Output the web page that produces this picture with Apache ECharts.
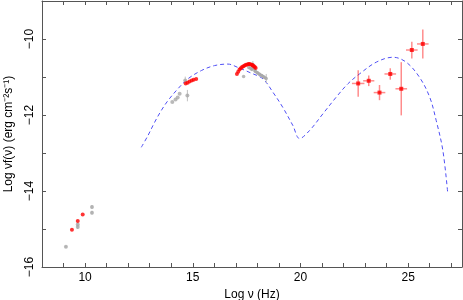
<!DOCTYPE html>
<html><head><meta charset="utf-8">
<script src="https://cdn.jsdelivr.net/npm/echarts@6/dist/echarts.min.js"></script>
<style>html,body{margin:0;padding:0;background:#fff}#c{width:463px;height:300px}</style>
</head><body><div id="c"></div>
<script>
// ---- data ----
const xTicks = [10, 15, 20, 25];
const yTicks = [-16, -14, -12, -10];

const radioGrayX = [9.11, 9.66, 9.66, 10.32, 10.32];
const radioGrayY = [-15.47, -14.88, -14.95, -14.42, -14.57];
const radioGrayErr = [0.02, 0.05, 0.05, 0.05, 0.05];
const radioRedX = [9.39, 9.66, 9.89];
const radioRedY = [-15.02, -14.79, -14.62];

const optGrayX = [14.05, 14.2, 14.3, 14.39, 14.65, 14.75];
const optGrayY = [-11.66, -11.59, -11.54, -11.44, -11.09, -11.49];
const optGrayErr = [0, 0, 0, 0, 0.1, 0.15];
const optRedX = [14.67, 14.76, 14.85, 14.95, 15.04, 15.16];
const optRedY = [-11.17, -11.15, -11.12, -11.09, -11.07, -11.05];

const xrayGrayX = [17.36, 17.6, 17.75, 17.79, 17.9, 18.0, 18.1, 18.2, 18.3, 18.41];
const xrayGrayY = [-10.99, -10.75, -10.80, -10.67, -10.85, -10.89, -10.93, -10.96, -11.0, -11.04];
const xrayGrayErr = [0, 0, 0, 0.09, 0, 0, 0, 0, 0, 0.12];
const xrayRedX = [17.05, 17.11, 17.17, 17.23, 17.29, 17.35, 17.41, 17.47, 17.53, 17.59, 17.64, 17.7, 17.75, 17.79, 17.84, 17.88, 17.92];
const xrayRedY = [-10.92, -10.86, -10.80, -10.77, -10.74, -10.72, -10.70, -10.68, -10.67, -10.66, -10.66, -10.67, -10.68, -10.70, -10.72, -10.74, -10.76];

const gammaX = [22.68, 23.17, 23.67, 24.17, 24.68, 25.17, 25.68];
const gammaY = [-11.17, -11.10, -11.41, -10.92, -11.31, -10.29, -10.13];
const gammaXErr = [0.29, 0.26, 0.27, 0.27, 0.27, 0.27, 0.27];
const gammaYErr = [0.35, 0.14, 0.2, 0.15, 0.7, 0.22, 0.38];

const modelX = [12.61, 12.92, 13.23, 13.54, 13.85, 14.31, 14.77, 15.40, 16.01, 16.63, 17.10, 17.68, 18.26, 18.72, 19.18, 19.65, 19.96, 20.42, 21.04, 21.66, 22.20, 22.74, 23.52, 24.29, 24.91, 25.53, 26.0, 26.30, 26.61, 26.84];
const modelY = [-12.85, -12.54, -12.19, -11.88, -11.62, -11.31, -11.05, -10.83, -10.70, -10.66, -10.75, -10.89, -11.05, -11.40, -11.80, -12.28, -12.62, -12.41, -11.97, -11.53, -11.18, -10.92, -10.61, -10.48, -10.61, -11.01, -11.53, -12.14, -12.93, -14.07];

// ---- chart ----
const zip = (xs, ys) => xs.map((x, i) => [x, ys[i]]);
const errData = (xs, ys, xe, ye) => xs.map((x, i) => [x, ys[i], xe ? xe[i] : 0, ye ? ye[i] : 0]);

function errRender(color, width) {
  return function (params, api) {
    const x = api.value(0), y = api.value(1), xe = api.value(2), ye = api.value(3);
    const children = [];
    if (ye > 0) {
      const a = api.coord([x, y - ye]), b = api.coord([x, y + ye]);
      children.push({type: 'line', shape: {x1: a[0], y1: a[1], x2: b[0], y2: b[1]}, style: {stroke: color, lineWidth: width}});
    }
    if (xe > 0) {
      const a = api.coord([x - xe, y]), b = api.coord([x + xe, y]);
      children.push({type: 'line', shape: {x1: a[0], y1: a[1], x2: b[0], y2: b[1]}, style: {stroke: color, lineWidth: width}});
    }
    return {type: 'group', children: children};
  };
}

const FONT = 'Liberation Sans';
const axisCol = '#555';
const chart = echarts.init(document.getElementById('c'), null, {renderer: 'canvas'});
const baseX = {
  type: 'value', min: 8, max: 27.5, interval: 1,
  axisLine: {show: true, onZero: false, lineStyle: {color: axisCol, width: 1}},
  axisTick: {show: true, inside: true, length: 4, lineStyle: {color: axisCol}},
  splitLine: {show: false}
};
const baseY = {
  type: 'value', min: -16, max: -9, interval: 1,
  axisLine: {show: true, onZero: false, lineStyle: {color: axisCol, width: 1}},
  axisTick: {show: true, inside: true, length: 4, lineStyle: {color: axisCol}},
  splitLine: {show: false}
};
chart.setOption({
  animation: false,
  grid: {left: 42, right: 1, top: 1, bottom: 33, containLabel: false, outerBoundsMode: 'none'},
  xAxis: [
    Object.assign({}, baseX, {
      position: 'bottom',
      name: 'Log ν (Hz)', nameLocation: 'middle', nameGap: 22,
      nameTextStyle: {fontFamily: FONT, fontSize: 12, color: '#000'},
      axisLabel: {fontFamily: FONT, fontSize: 12, color: '#000', margin: 5,
        formatter: v => xTicks.includes(v) ? String(v) : ''}
    }),
    Object.assign({}, baseX, {position: 'top', axisLabel: {show: false}})
  ],
  yAxis: [
    Object.assign({}, baseY, {
      position: 'left',
      name: 'Log νf(ν) (erg cm⁻²s⁻¹)', nameLocation: 'middle', nameGap: 27, nameRotate: 90,
      nameTextStyle: {fontFamily: FONT, fontSize: 12, color: '#000'},
      axisLabel: {fontFamily: FONT, fontSize: 12, color: '#000', rotate: 90, margin: 6,
        formatter: v => yTicks.includes(v) ? String(v).replace('-', '−') : ''}
    }),
    Object.assign({}, baseY, {position: 'right', axisLabel: {show: false}})
  ],
  series: [
    {type: 'line', data: zip(modelX, modelY), smooth: 0.35, showSymbol: false, symbol: 'none',
      lineStyle: {color: '#4f4ff5', width: 1, type: [4, 3]}, z: 1},
    {type: 'custom', renderItem: errRender('#c0c0c0', 1), data: errData(radioGrayX, radioGrayY, null, radioGrayErr), z: 2},
    {type: 'custom', renderItem: errRender('#c0c0c0', 1), data: errData(optGrayX, optGrayY, null, optGrayErr), z: 2},
    {type: 'custom', renderItem: errRender('#c0c0c0', 1), data: errData(xrayGrayX, xrayGrayY, null, xrayGrayErr), z: 2},
    {type: 'scatter', data: zip(radioGrayX, radioGrayY), symbol: 'circle', symbolSize: 4, itemStyle: {color: '#a8a8a8'}, z: 3},
    {type: 'scatter', data: zip(optGrayX, optGrayY), symbol: 'circle', symbolSize: 4, itemStyle: {color: '#a8a8a8'}, z: 3},
    {type: 'scatter', data: zip(xrayGrayX, xrayGrayY), symbol: 'circle', symbolSize: 3.5, itemStyle: {color: '#a8a8a8'}, z: 3},
    {type: 'line', data: zip(xrayGrayX.slice(1), xrayGrayY.slice(1)), showSymbol: false, lineStyle: {color: '#b0b0b0', width: 3}, z: 3},
    {type: 'scatter', data: zip(radioRedX, radioRedY), symbol: 'circle', symbolSize: 4, itemStyle: {color: '#ff0000'}, z: 4},
    {type: 'scatter', data: zip(optRedX, optRedY), symbol: 'circle', symbolSize: 4, itemStyle: {color: '#ff0000'}, z: 4},
    {type: 'scatter', data: zip(xrayRedX, xrayRedY), symbol: 'circle', symbolSize: 4, itemStyle: {color: '#ff0000'}, z: 4},
    {type: 'custom', renderItem: errRender('rgba(255,0,0,0.45)', 1.5), data: errData(gammaX, gammaY, gammaXErr, gammaYErr), z: 5},
    {type: 'scatter', data: zip(gammaX, gammaY), symbol: 'rect', symbolSize: 4, itemStyle: {color: '#ff0000'}, z: 6}
  ]
});
</script></body></html>
